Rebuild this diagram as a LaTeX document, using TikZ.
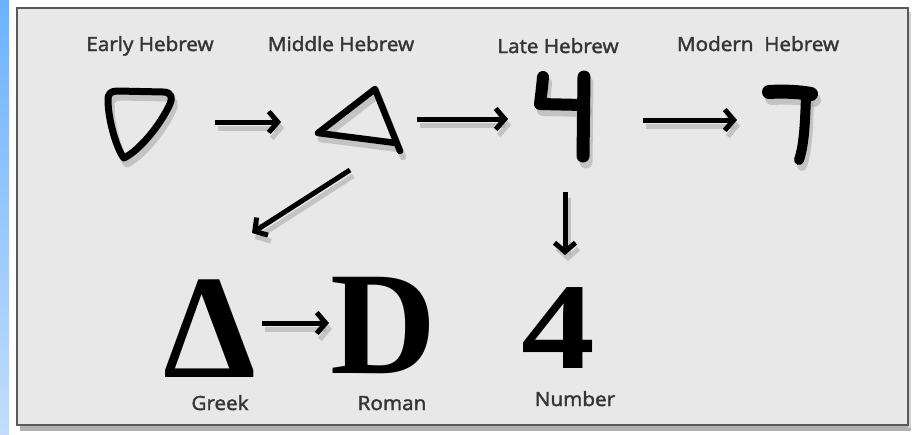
\documentclass[tikz,border=0pt]{standalone}
\usepackage{fontspec}
\setmainfont{Open Sans}
\newfontfamily\lblfont{Open Sans}[FakeBold=2, FakeStretch=1.06]
\newfontfamily\bigserif{Liberation Serif}
\usetikzlibrary{arrows.meta}
\definecolor{panelgray}{HTML}{E8E8E8}
\definecolor{panelborder}{HTML}{5A5A5A}
\definecolor{labelgray}{HTML}{353535}
\definecolor{bluetop}{HTML}{6CB2FF}
\definecolor{bluebot}{HTML}{C2DDFB}
\tikzset{
  lbl/.style={font=\lblfont\fontsize{19.5}{24}\selectfont, text=labelgray, anchor=base, inner sep=0pt, outer sep=0pt},
  bigglyph/.style={anchor=base, inner sep=0pt, outer sep=0pt},
  arr/.style={line width=5pt, -{Straight Barb[length=9pt,width=21pt]}},
  shd/.style={black!35, opacity=0.55, transform canvas={shift={(3,6)}}},
  pen/.style={line width=#1, line cap=round, line join=round},
}
\begin{document}
\begin{tikzpicture}[x=1pt,y=-1pt]
\useasboundingbox (0,0) rectangle (913,434);
\fill[white] (0,0) rectangle (913,434);
\shade[top color=bluetop, bottom color=bluebot] (0,0) rectangle (9,434);
% panel
\fill[black!30] (20,425) rectangle (911,431);
\fill[black!18] (908,12) rectangle (911,428);
\draw[panelborder, line width=1.5pt, fill=panelgray] (17,8) rectangle (908,425);

% labels
\node[lbl] (lEarly)  at (150,51) {Early Hebrew};
\node[lbl] (lMiddle) at (341,51) {Middle Hebrew};
\node[lbl] (lLate)   at (558,53) {Late Hebrew};
\node[lbl] (lModern) at (758,51) {Modern\ \ Hebrew};
\node[lbl] (lGreek)  at (220,410) {Greek};
\node[lbl] (lRoman)  at (392,410) {Roman};
\node[lbl] (lNumber) at (575,406) {Number};

% hand-drawn glyphs (shadow, then ink)
\foreach \s in {shd,black}{
% Early Hebrew
\draw[pen=7pt,\s] (124,158) .. controls (117,150) and (108,120) .. (108,100)
   .. controls (108,93) and (111,91) .. (118,91) -- (163,92)
   .. controls (172,92) and (173,98) .. (169,106)
   .. controls (160,125) and (140,150) .. (124,158) -- cycle;
% Middle Hebrew
\draw[pen=6.5pt,\s] (400,151) -- (375,89) -- (318,133) -- (396,143);
% Late Hebrew
\draw[pen=13pt,\s] (584,77) -- (583,156);
\draw[pen=12pt,\s] (543,77) .. controls (542,88) and (541,96) .. (540,104) -- (583,105);
% Modern Hebrew
\draw[pen=14pt,\s] (769,92) .. controls (785,91) and (800,92) .. (811,94);
\draw[pen=10pt,\s] (806,96) .. controls (805,125) and (804,145) .. (799,160);
}

% big letters
\node[bigglyph, font=\bigserif\bfseries\fontsize{148}{148}\selectfont] (greek) at (210,377) {Δ};
\node[bigglyph, font=\bigserif\bfseries\fontsize{147}{147}\selectfont] (roman) at (384,373) {D};
\node[bigglyph, xscale=1.2, font=\bigserif\bfseries\fontsize{123}{123}\selectfont] (number) at (558,368) {4};

% arrow ends
\coordinate (a1s) at (215,122); \coordinate (a1e) at (281,122);
\coordinate (a2s) at (417,119); \coordinate (a2e) at (508,119);
\coordinate (a3s) at (643,120); \coordinate (a3e) at (737,120);
\coordinate (a4s) at (350,170); \coordinate (a4e) at (252,233);
\coordinate (a5s) at (565,192); \coordinate (a5e) at (565,255);
\coordinate (a6s) at (262,323); \coordinate (a6e) at (329,323);

\foreach \s in {shd,black}{
\draw[arr,\s] (a1s) -- (a1e);
\draw[arr,\s] (a2s) -- (a2e);
\draw[arr,\s] (a3s) -- (a3e);
\draw[arr,\s] (a4s) -- (a4e);
\draw[arr,\s] (a5s) -- (a5e);
\draw[arr,\s] (a6s) -- (a6e);
}
\end{tikzpicture}
\end{document}
